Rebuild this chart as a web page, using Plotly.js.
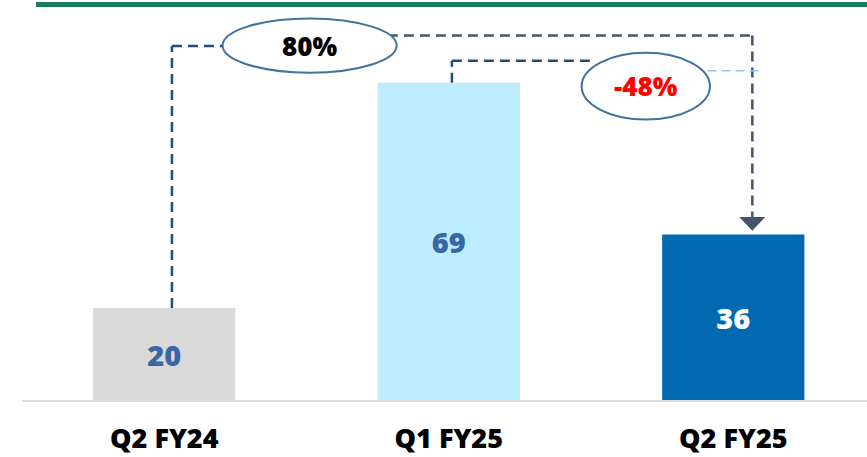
<!DOCTYPE html>
<html>
<head>
<meta charset="utf-8">
<script src="https://cdn.plot.ly/plotly-3.0.1.min.js"></script>
<style>
  html, body { margin: 0; padding: 0; background: #ffffff; }
  #chart { width: 867px; height: 457px; }
</style>
</head>
<body>
<div id="chart"></div>
<script>
// Quarterly values
const quarters = ['Q2 FY24', 'Q1 FY25', 'Q2 FY25'];
const values = [20, 69, 36];
const barColors = ['#D9D9D9', '#BDECFC', '#0069B1'];
const labelColors = ['#3767A6', '#3767A6', '#FFFFFF'];

// Growth callouts
const yoyChange = '80%';
const qoqChange = '-48%';

const idx = quarters.map((_, i) => i);
const FONT = 'Open Sans, Arial, sans-serif';

const trace = {
  type: 'bar',
  x: idx,
  y: values,
  width: 0.5,
  marker: { color: barColors, line: { width: 0 } },
  text: values.map(String),
  textposition: 'inside',
  insidetextanchor: 'middle',
  textangle: 0,
  textfont: { family: FONT, size: 29, weight: 800, color: labelColors },
  hoverinfo: 'skip',
  cliponaxis: false
};

// Connector geometry (x in category units, y in value units)
const topLevel = 79.3;      // long connector from Q2 FY24 to Q2 FY25
const midLevel = 77.0;      // stub from Q2 FY24 bar into the first ellipse
const secondLevel = 73.8;   // stub from Q1 FY25 bar into the second ellipse
const thinLevel = 71.6;     // light guide from second ellipse
const dropX = idx[2] + 0.067;
const arrowTip = values[2] + 0.8;
const arrowBase = arrowTip + 3.0;

const dashDark = { color: '#1F4E79', width: 2.5, dash: '10px,6px' };
const dashGrey = { color: '#44546A', width: 2.5, dash: '10px,6px' };

const shapes = [
  // green rule across the top
  { type: 'line', xref: 'paper', yref: 'paper', x0: 0.0166, x1: 1, y0: 0.9888, y1: 0.9888,
    line: { color: '#1A7B5B', width: 5 } },

  // Q2 FY24 -> first ellipse
  { type: 'line', x0: idx[0] + 0.027, x1: idx[0] + 0.027, y0: values[0], y1: midLevel, line: dashDark },
  { type: 'line', x0: idx[0] + 0.027, x1: 0.21, y0: midLevel, y1: midLevel, line: dashDark },

  // first ellipse -> Q2 FY25
  { type: 'line', x0: 0.786, x1: dropX, y0: topLevel, y1: topLevel, line: dashGrey },
  { type: 'line', x0: dropX, x1: dropX, y0: topLevel, y1: arrowBase, line: dashGrey },
  { type: 'path', path: `M ${dropX - 0.046},${arrowBase} L ${dropX + 0.045},${arrowBase} L ${dropX},${arrowTip} Z`,
    fillcolor: '#44546A', line: { width: 0 } },

  // Q1 FY25 -> second ellipse
  { type: 'line', x0: idx[1] + 0.011, x1: idx[1] + 0.011, y0: values[1], y1: secondLevel, line: dashDark },
  { type: 'line', x0: idx[1] + 0.011, x1: 1.503, y0: secondLevel, y1: secondLevel, line: dashDark },

  // thin guide from second ellipse
  { type: 'line', x0: 1.91, x1: 2.088, y0: thinLevel, y1: thinLevel,
    line: { color: '#9DC3E6', width: 1.5, dash: '9px,5px' } },

  // callout ellipses
  { type: 'circle', x0: 0.205, x1: 0.817, y0: 71.2, y1: 83.0,
    fillcolor: '#FFFFFF', line: { color: '#41719C', width: 2 } },
  { type: 'circle', x0: 1.467, x1: 1.918, y0: 61.0, y1: 75.5,
    fillcolor: '#FFFFFF', line: { color: '#41719C', width: 2 } }
];

const annotations = [
  { x: 0.511, y: 77.1, text: yoyChange, showarrow: false,
    font: { family: FONT, size: 26, weight: 800, color: '#000000' } },
  { x: 1.6925, y: 68.25, text: qoqChange, showarrow: false,
    font: { family: FONT, size: 26, weight: 800, color: '#FF0000' } }
];

const layout = {
  width: 867,
  height: 457,
  margin: { l: 22, r: 0, t: 0, b: 57 },
  paper_bgcolor: '#FFFFFF',
  plot_bgcolor: '#FFFFFF',
  showlegend: false,
  xaxis: {
    range: [-0.5, 2.47],
    tickvals: idx,
    ticktext: quarters,
    showgrid: false,
    zeroline: false,
    showline: true,
    linecolor: '#DADFE6',
    linewidth: 2,
    ticks: '',
    ticklabelstandoff: 14,
    tickfont: { family: FONT, size: 27, weight: 800, color: '#000000' },
    fixedrange: true
  },
  yaxis: {
    range: [0, 87],
    visible: false,
    showgrid: false,
    zeroline: false,
    fixedrange: true
  },
  shapes: shapes,
  annotations: annotations
};

Plotly.newPlot('chart', [trace], layout, { staticPlot: true, displayModeBar: false });
</script>
</body>
</html>
